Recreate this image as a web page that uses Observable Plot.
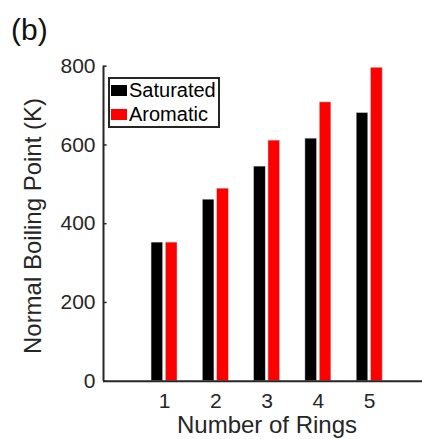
<!DOCTYPE html>
<html><head><meta charset="utf-8">
<script src="https://cdn.jsdelivr.net/npm/d3@7"></script>
<script src="https://cdn.jsdelivr.net/npm/@observablehq/plot@0.6"></script>
<style>
body{margin:0;background:#fff;font-family:"Liberation Sans",Arial,Helvetica,sans-serif;}
#wrap{position:relative;width:422px;height:439px;overflow:hidden;}
#wrap svg{position:absolute;left:0;top:0;}
.t{position:absolute;color:#262626;white-space:nowrap;line-height:1;}
</style></head><body>
<div id="wrap"></div>
<script>
const rings = [1, 2, 3, 4, 5];
const saturated = [352, 461, 545, 616, 681];
const aromatic = [352, 489, 611, 708, 796];
const series = ["Saturated", "Aromatic"];
const colors = ["#000000", "#ff0000"];
const yTicks = [0, 200, 400, 600, 800];
const xDomain = [-0.19, 6.03];
const yDomain = [0, 800];

const data = [];
rings.forEach((r, i) => {
  data.push({ring: r, series: "Saturated", value: saturated[i], side: -1});
  data.push({ring: r, series: "Aromatic", value: aromatic[i], side: 1});
});
const off = 0.14, half = 0.113;

const plot = Plot.plot({
  width: 422, height: 439,
  marginLeft: 103, marginRight: 0, marginTop: 65.7, marginBottom: 58.3,
  style: {fontFamily: '"Liberation Sans",Arial,sans-serif', color: "#262626", background: "transparent"},
  x: {type: "linear", domain: xDomain},
  y: {domain: yDomain},
  color: {domain: series, range: colors},
  marks: [
    Plot.rectY(data, {
      x1: d => d.ring + d.side * off - half,
      x2: d => d.ring + d.side * off + half,
      y1: 0, y2: "value", fill: "series", stroke: "#d0d0d0", strokeWidth: 0.5
    }),
    Plot.axisY({ticks: yTicks, tickSize: 0, tickPadding: 8, fontSize: 21, label: null, fill: "#262626"}),
    Plot.ruleY(yTicks, {y: d => d, x1: xDomain[0], x2: xDomain[0] + 0.07, stroke: "#262626", strokeWidth: 1.5}),
    Plot.axisX({ticks: rings, tickFormat: d => String(d), tickSize: 0, tickPadding: 12, fontSize: 21, label: null, fill: "#262626"}),
    Plot.ruleX([xDomain[0]], {stroke: "#262626", strokeWidth: 2}),
    Plot.ruleY([0], {stroke: "#262626", strokeWidth: 2})
  ]
});
const wrap = document.getElementById("wrap");
wrap.appendChild(plot);

function addText(txt, css) {
  const d = document.createElement("div");
  d.className = "t";
  d.textContent = txt;
  Object.assign(d.style, css);
  wrap.appendChild(d);
  return d;
}
addText("(b)", {left: "11px", top: "15px", fontSize: "30px", color: "#111"});
addText("Number of Rings", {left: "267px", top: "413px", fontSize: "24px", transform: "translateX(-50%)"});
addText("Normal Boiling Point (K)", {left: "33px", top: "226px", fontSize: "24px", transform: "translate(-50%,-50%) rotate(-90deg)"});

// legend
const leg = document.createElement("div");
Object.assign(leg.style, {position: "absolute", left: "108px", top: "77px", width: "108px", height: "47px",
  border: "2px solid #262626", background: "#fff", boxSizing: "content-box"});
wrap.appendChild(leg);
series.forEach((s, i) => {
  const sw = document.createElement("div");
  Object.assign(sw.style, {position: "absolute", left: "1px", top: (6 + i * 24) + "px", width: "16px", height: "11px", background: colors[i]});
  leg.appendChild(sw);
  const tx = document.createElement("div");
  tx.className = "t";
  tx.textContent = s;
  Object.assign(tx.style, {left: "19px", top: (1 + i * 24) + "px", fontSize: "20px", color: "#000"});
  leg.appendChild(tx);
});
</script>
</body></html>
